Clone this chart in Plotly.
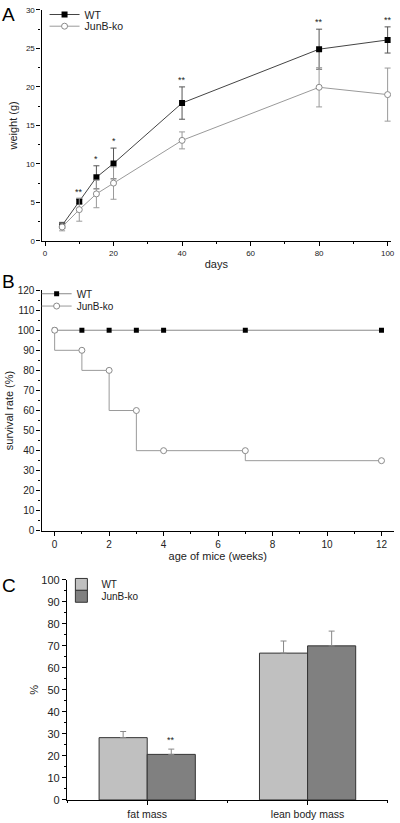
import plotly.graph_objects as go

# ---------- Panel A: body weight ----------
days = [5, 10, 15, 20, 40, 80, 100]
wt_weight = [2.0, 5.1, 8.25, 10.05, 17.9, 24.9, 26.1]
wt_weight_err = [0.4, 0.3, 1.5, 2.0, 2.1, 2.6, 1.7]
ko_weight = [1.8, 4.05, 6.1, 7.5, 13.05, 19.95, 19.0]
ko_weight_err = [0.5, 1.5, 1.8, 2.1, 1.1, 2.55, 3.45]
weight_sig = ["", "**", "*", "*", "**", "**", "**"]

# ---------- Panel B: survival ----------
weeks = [0, 1, 2, 3, 4, 7, 12]
wt_survival = [100, 100, 100, 100, 100, 100, 100]
ko_survival = [100, 90, 80, 60, 40, 40, 35]

# ---------- Panel C: body composition ----------
comp_categories = ["fat mass", "lean body mass"]
wt_comp = [28.3, 66.7]
wt_comp_err = [2.8, 5.5]
ko_comp = [20.7, 70.0]
ko_comp_err = [2.4, 6.7]
comp_sig = ["**", ""]

FONT = "Liberation Sans, Arial, sans-serif"
W, H = 400, 823

def px2y(p):
    return 1 - p / H

fig = go.Figure()

# Panel A traces
fig.add_trace(go.Scatter(
    x=days, y=wt_weight, name="WT", mode="lines+markers",
    line=dict(color="#444444", width=1),
    marker=dict(symbol="square", size=6, color="black"),
    error_y=dict(type="data", array=wt_weight_err, color="#555555", thickness=1, width=3),
    xaxis="x", yaxis="y", legend="legend"))
fig.add_trace(go.Scatter(
    x=days, y=ko_weight, name="JunB-ko", mode="lines+markers",
    line=dict(color="#9a9a9a", width=1),
    marker=dict(symbol="circle", size=6, color="white", line=dict(color="#8a8a8a", width=1)),
    error_y=dict(type="data", array=ko_weight_err, color="#9a9a9a", thickness=1, width=3),
    xaxis="x", yaxis="y", legend="legend2"))

# Panel B traces
fig.add_trace(go.Scatter(
    x=weeks, y=wt_survival, name="WT", mode="lines+markers",
    line=dict(color="#8a8a8a", width=1, shape="vh"),
    marker=dict(symbol="square", size=5, color="black"),
    xaxis="x2", yaxis="y2", legend="legend3"))
fig.add_trace(go.Scatter(
    x=weeks, y=ko_survival, name="JunB-ko", mode="lines+markers",
    line=dict(color="#9a9a9a", width=1, shape="vh"),
    marker=dict(symbol="circle", size=6, color="white", line=dict(color="#8a8a8a", width=1)),
    xaxis="x2", yaxis="y2", legend="legend4"))

# Panel C traces
cat_idx = list(range(len(comp_categories)))
fig.add_trace(go.Bar(
    x=cat_idx, y=wt_comp, name="WT", offsetgroup="wt",
    marker=dict(color="#c0c0c0", line=dict(color="#333333", width=1)),
    error_y=dict(type="data", symmetric=False, array=wt_comp_err,
                 arrayminus=[0] * len(wt_comp), color="#888888", thickness=1, width=3),
    xaxis="x3", yaxis="y3", legend="legend5"))
fig.add_trace(go.Bar(
    x=cat_idx, y=ko_comp, name="JunB-ko", offsetgroup="ko",
    marker=dict(color="#808080", line=dict(color="#333333", width=1)),
    error_y=dict(type="data", symmetric=False, array=ko_comp_err,
                 arrayminus=[0] * len(ko_comp), color="#888888", thickness=1, width=3),
    xaxis="x3", yaxis="y3", legend="legend6"))

annotations = []
# significance marks panel A
for d, v, e, s in zip(days, wt_weight, wt_weight_err, weight_sig):
    if s:
        annotations.append(dict(x=d, y=v + e, xref="x", yref="y", text=s, showarrow=False,
                                yanchor="bottom", yshift=0, font=dict(size=9, color="#222")))
# significance marks panel C (above JunB bars)
for i, v, e, s in zip(cat_idx, ko_comp, ko_comp_err, comp_sig):
    if s:
        annotations.append(dict(x=i + 0.15, y=v + e, xref="x3", yref="y3", text=s, showarrow=False,
                                yanchor="bottom", yshift=2, font=dict(size=9, color="#222")))
# panel letters
for letter, yp in [("A", 9), ("B", 280), ("C", 588)]:
    annotations.append(dict(x=0.0, y=px2y(yp), xref="paper", yref="paper", text=letter,
                            showarrow=False, xanchor="left", yanchor="middle",
                            font=dict(size=19, color="black")))

axis_common = dict(showline=True, linecolor="black", linewidth=1.3, ticks="outside",
                   ticklen=4, tickwidth=1, tickcolor="black", showgrid=False, zeroline=False,
                   tickfont=dict(size=8, color="#222"), mirror=False)

def leg(xp, yp, size):
    # yp: vertical centre of the single legend row (px from top)
    return dict(x=xp / W, y=px2y(yp), xanchor="left", yanchor="middle", visible=True,
                bgcolor="rgba(0,0,0,0)", font=dict(size=size), itemwidth=30,
                tracegroupgap=0, borderwidth=0)

fig.update_layout(
    width=W, height=H, margin=dict(l=0, r=0, t=0, b=0),
    plot_bgcolor="white", paper_bgcolor="white",
    font=dict(family=FONT, color="#222"),
    showlegend=True,
    barmode="group", bargap=0.4, bargroupgap=0,
    annotations=annotations,
    xaxis=dict(axis_common, domain=[42 / W, 395 / W], range=[-1, 101], dtick=20,
               minor=dict(ticks="outside", ticklen=2, dtick=10, tickcolor="black"),
               anchor="y", title=dict(text="days", font=dict(size=11), standoff=3)),
    yaxis=dict(axis_common, domain=[px2y(238.3), px2y(4)], range=[0, 30], dtick=5,
               minor=dict(ticks="outside", ticklen=2, dtick=2.5, tickcolor="black"),
               anchor="x", title=dict(text="weight (g)", font=dict(size=11), standoff=6)),
    xaxis2=dict(axis_common, domain=[42 / W, 398 / W], range=[-0.48, 12.46], dtick=2,
                tickfont=dict(size=10, color="#222"),
                minor=dict(ticks="outside", ticklen=2, dtick=1, tickcolor="black"),
                anchor="y2", title=dict(text="age of mice (weeks)", font=dict(size=11), standoff=2)),
    yaxis2=dict(axis_common, domain=[px2y(532.7), px2y(288.3)], range=[0, 120], dtick=10,
                tickfont=dict(size=10, color="#222"),
                minor=dict(ticks="outside", ticklen=2, dtick=5, tickcolor="black"),
                anchor="x2", title=dict(text="survival rate (%)", font=dict(size=11), standoff=1)),
    xaxis3=dict(axis_common, domain=[67.7 / W, 391.7 / W], range=[-0.5, 1.5],
                tickvals=cat_idx, ticktext=comp_categories, tickfont=dict(size=10.5, color="#222"),
                minor=dict(ticks="outside", ticklen=2, dtick=0.5, tickcolor="black"),
                anchor="y3"),
    yaxis3=dict(axis_common, domain=[px2y(805.7), px2y(582.3)], range=[0, 100], dtick=10,
                tickfont=dict(size=11, color="#222"),
                minor=dict(ticks="outside", ticklen=2, dtick=5, tickcolor="black"),
                anchor="x3", title=dict(text="%", font=dict(size=11), standoff=0)),
    legend=leg(45, 8.5, 10.5),
    legend2=leg(45, 20.5, 10.5),
    legend3=leg(37, 292, 10),
    legend4=leg(37, 304.5, 10),
    legend5=leg(62, 587, 10),
    legend6=leg(62, 599, 10),
)

fig.write_html("out.html", config={"displayModeBar": False},
               post_script="document.body.style.margin='0';")
